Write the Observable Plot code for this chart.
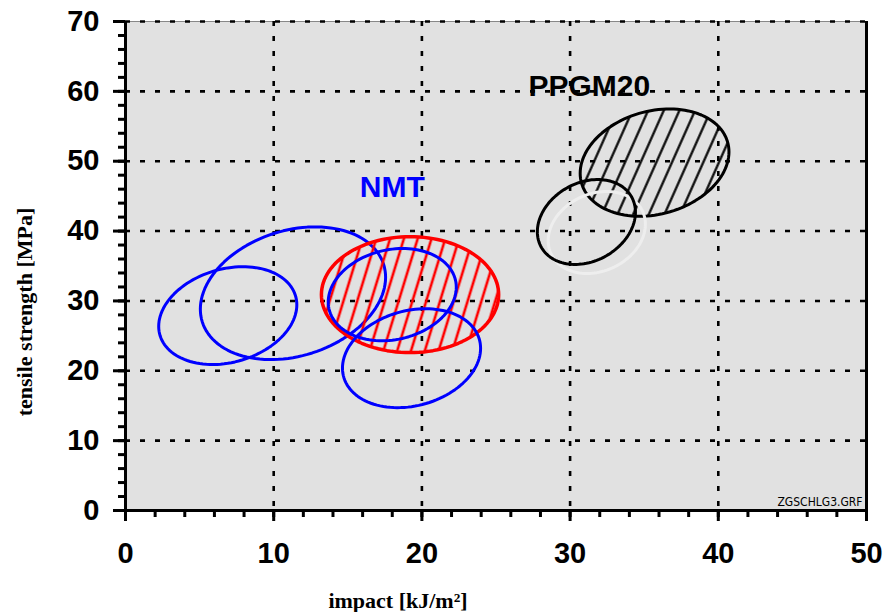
<!DOCTYPE html>
<html>
<head>
<meta charset="utf-8">
<script src="https://cdn.jsdelivr.net/npm/d3@7"></script>
<script src="https://cdn.jsdelivr.net/npm/@observablehq/plot@0.6"></script>
<style>
  html, body { margin: 0; padding: 0; background: #fff; }
</style>
</head>
<body>
<div id="chart"></div>
<script>
// ---- data ----
const ellipseNames   = ["NMT a", "NMT b", "NMT c", "NMT d", "NMT mean", "PPGM20 mean", "PPGM20 shadow", "PPGM20 a"];
const ellipseGroup   = ["NMT", "NMT", "NMT", "NMT", "NMT", "PPGM20", "PPGM20", "PPGM20"];
const centerImpact   = [6.9, 11.3, 18.0, 19.3, 19.2, 35.7, 31.8, 31.1];   // kJ/m²
const centerStrength = [27.9, 31.1, 30.9, 21.8, 30.9, 49.8, 39.8, 41.3];  // MPa
const spreadImpact   = [4.66, 6.25, 4.32, 4.66, 5.98, 5.02, 3.28, 3.31];
const spreadStrength = [7.0, 9.5, 6.6, 7.08, 8.3, 7.68, 5.87, 6.08];
const tiltCorr       = [0.22, 0.24, 0.16, 0.2, 0.0, 0.2, 0.2, 0.23];
const labelNames     = ["NMT", "PPGM20"];
const labelImpact    = [18.0, 31.3];
const labelStrength  = [46.2, 60.7];
const xTicks = [0, 10, 20, 30, 40, 50];
const yTicks = [0, 10, 20, 30, 40, 50, 60, 70];
const xMinor = d3.range(0, 50.1, 2);
const yMinor = d3.range(0, 70.1, 2);

// ---- build ellipse outlines from centre / spread / tilt ----
const rows = [];
ellipseNames.forEach((name, i) => {
  const d = Math.asin(tiltCorr[i]);
  for (let a = 0; a < 360; a += 3) {
    const t = a * Math.PI / 180;
    rows.push({
      name,
      impact: centerImpact[i] + spreadImpact[i] * Math.cos(t),
      strength: centerStrength[i] + spreadStrength[i] * Math.sin(t + d)
    });
  }
});
const pick = n => rows.filter(r => r.name === n);

const gridStyle = {stroke: "black", strokeWidth: 2.6, strokeDasharray: "5,10"};

const ell = (n, o) => Plot.line(pick(n), {x: "impact", y: "strength", curve: "linear-closed", strokeWidth: 3, ...o});

const svg = Plot.plot({
  width: 886,
  height: 612,
  marginLeft: 125,
  marginRight: 20,
  marginTop: 21,
  marginBottom: 102,
  x: {domain: [0, 50]},
  y: {domain: [0, 70]},
  style: {fontFamily: "'Liberation Sans', Arial, sans-serif", background: "#fff", color: "black"},
  marks: [
    Plot.frame({fill: "#e1e1e1", stroke: null}),
    Plot.ruleY([70], {stroke: "#888", strokeWidth: 1}),
    Plot.ruleX(xTicks.filter(v => v > 0 && v < 50), gridStyle),
    Plot.ruleY(yTicks.filter(v => v > 0), gridStyle),
    // NMT group
    ell("NMT a", {stroke: "#0000ff"}),
    ell("NMT b", {stroke: "#0000ff"}),
    ell("NMT mean", {stroke: "#ff0000", strokeWidth: 3.5, fill: "url(#hatchRed)"}),
    ell("NMT c", {stroke: "#0000ff"}),
    ell("NMT d", {stroke: "#0000ff"}),
    // PPGM20 group
    ell("PPGM20 mean", {stroke: "black", fill: "url(#hatchBlack)"}),
    ell("PPGM20 shadow", {stroke: "#eeeeee", strokeWidth: 3}),
    ell("PPGM20 a", {stroke: "black"}),
    // group labels
    Plot.text(labelNames, {x: (d, i) => labelImpact[i], y: (d, i) => labelStrength[i], text: d => d,
      fill: d => d === "NMT" ? "#0000ff" : "black", fontSize: 30, fontWeight: "bold"}),
    Plot.text(["ZGSCHLG3.GRF"], {frameAnchor: "bottom-right", textAnchor: "end", lineAnchor: "bottom",
      dx: -4, dy: -5, fontSize: 12, fontFamily: "'Liberation Sans Narrow', 'DejaVu Sans Condensed', sans-serif", letterSpacing: "-0.6px"}),
    // axes
    Plot.axisY({ticks: yMinor, tickSize: 7, strokeWidth: 3, tickFormat: () => "", label: null}),
    Plot.axisY({ticks: yTicks, tickSize: 12, tickPadding: 14, strokeWidth: 3, fontSize: 29, fontWeight: "bold", label: null}),
    Plot.axisX({ticks: xMinor, tickSize: 7, strokeWidth: 3, tickFormat: () => "", label: null}),
    Plot.axisX({ticks: xTicks, tickSize: 11, tickPadding: 21, strokeWidth: 3, fontSize: 29, fontWeight: "bold", label: null}),
    Plot.ruleX([0], {stroke: "black", strokeWidth: 3}),
    Plot.ruleX([50], {stroke: "black", strokeWidth: 3}),
    Plot.ruleY([0], {stroke: "black", strokeWidth: 3}),
    // axis titles
    Plot.text(["impact [kJ/m²]"], {frameAnchor: "bottom", dx: -98, dy: 90, textAnchor: "middle", lineAnchor: "middle",
      fontFamily: "'Liberation Serif', 'Times New Roman', serif", fontWeight: "bold", fontSize: 22}),
    Plot.text(["tensile strength [MPa]"], {frameAnchor: "left", dx: -101, dy: 46, rotate: -90, textAnchor: "middle", lineAnchor: "middle",
      fontFamily: "'Liberation Serif', 'Times New Roman', serif", fontWeight: "bold", fontSize: 22})
  ]
});

d3.select(svg).insert("defs", ":first-child").html(`
  <pattern id="hatchRed" patternUnits="userSpaceOnUse" width="13.2" height="40" patternTransform="rotate(17)">
    <line x1="6.6" y1="-5" x2="6.6" y2="45" stroke="#ff0000" stroke-width="2.6"/>
  </pattern>
  <pattern id="hatchBlack" patternUnits="userSpaceOnUse" width="14.3" height="40" patternTransform="rotate(24)">
    <line x1="7.15" y1="-5" x2="7.15" y2="45" stroke="black" stroke-width="2.2"/>
  </pattern>`);

document.getElementById("chart").appendChild(svg);
</script>
</body>
</html>
